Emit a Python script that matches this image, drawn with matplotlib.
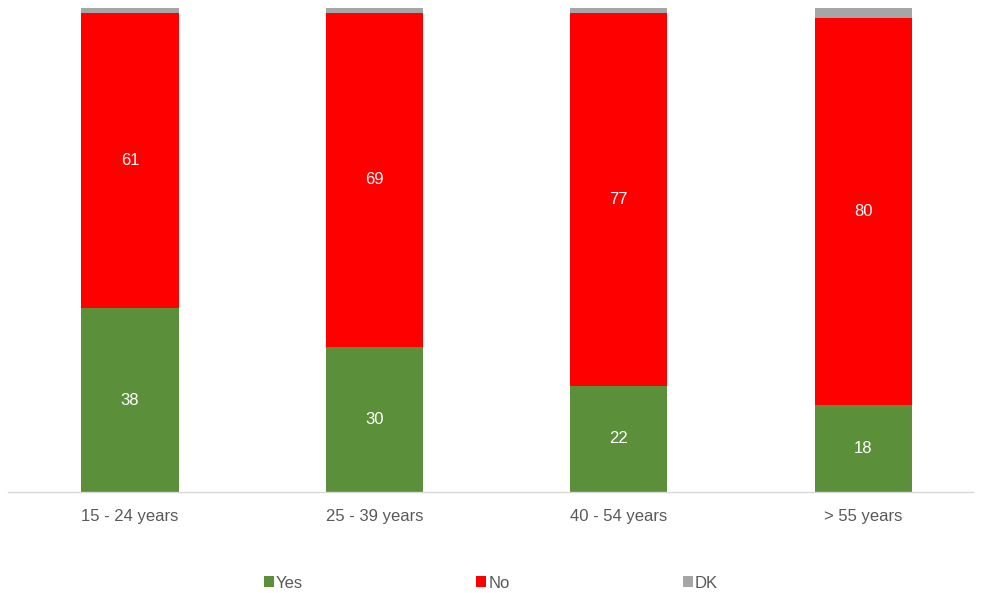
import matplotlib.pyplot as plt
import numpy as np

plt.rcParams['font.family'] = ['Liberation Sans', 'DejaVu Sans']

categories = ['15 - 24 years', '25 - 39 years', '40 - 54 years', '> 55 years']
yes = [38, 30, 22, 18]
no = [61, 69, 77, 80]
dk = [1, 1, 1, 2]

c_yes = '#5b8f3a'
c_no = '#ff0000'
c_dk = '#a6a6a6'
txt = '#595959'

fig = plt.figure(figsize=(9.81, 5.93), dpi=100)
ax = fig.add_axes([8/981, 101/593, 965/981, 484/593])

x = np.arange(len(categories))
w = 0.397
b1 = ax.bar(x, yes, w, color=c_yes, label='Yes')
b2 = ax.bar(x, no, w, bottom=yes, color=c_no, label='No')
b3 = ax.bar(x, dk, w, bottom=np.array(yes) + np.array(no), color=c_dk, label='DK')

ax.bar_label(b1, labels=[str(v) for v in yes], label_type='center', color='white', fontsize=12)
ax.bar_label(b2, labels=[str(v) for v in no], label_type='center', color='white', fontsize=12)

ax.set_xlim(-0.4993, 3.450)
ax.set_ylim(0, 100)
ax.set_xticks(x)
ax.set_xticklabels(categories, fontsize=12, color=txt)
ax.tick_params(axis='x', length=0, pad=12)
ax.set_yticks([])
for s in ['top', 'right', 'left']:
    ax.spines[s].set_visible(False)
ax.spines['bottom'].set_color('#d9d9d9')
ax.spines['bottom'].set_linewidth(1)

fig.legend(handles=[b1, b2, b3], labels=['Yes', 'No', 'DK'], loc='center',
           bbox_to_anchor=(491/981, 1 - 583/593), ncol=3, frameon=False,
           fontsize=12, labelcolor=txt, handlelength=0.6, handleheight=0.6,
           handletextpad=0.1, columnspacing=10.4)

fig.savefig('out.png', dpi=100)
